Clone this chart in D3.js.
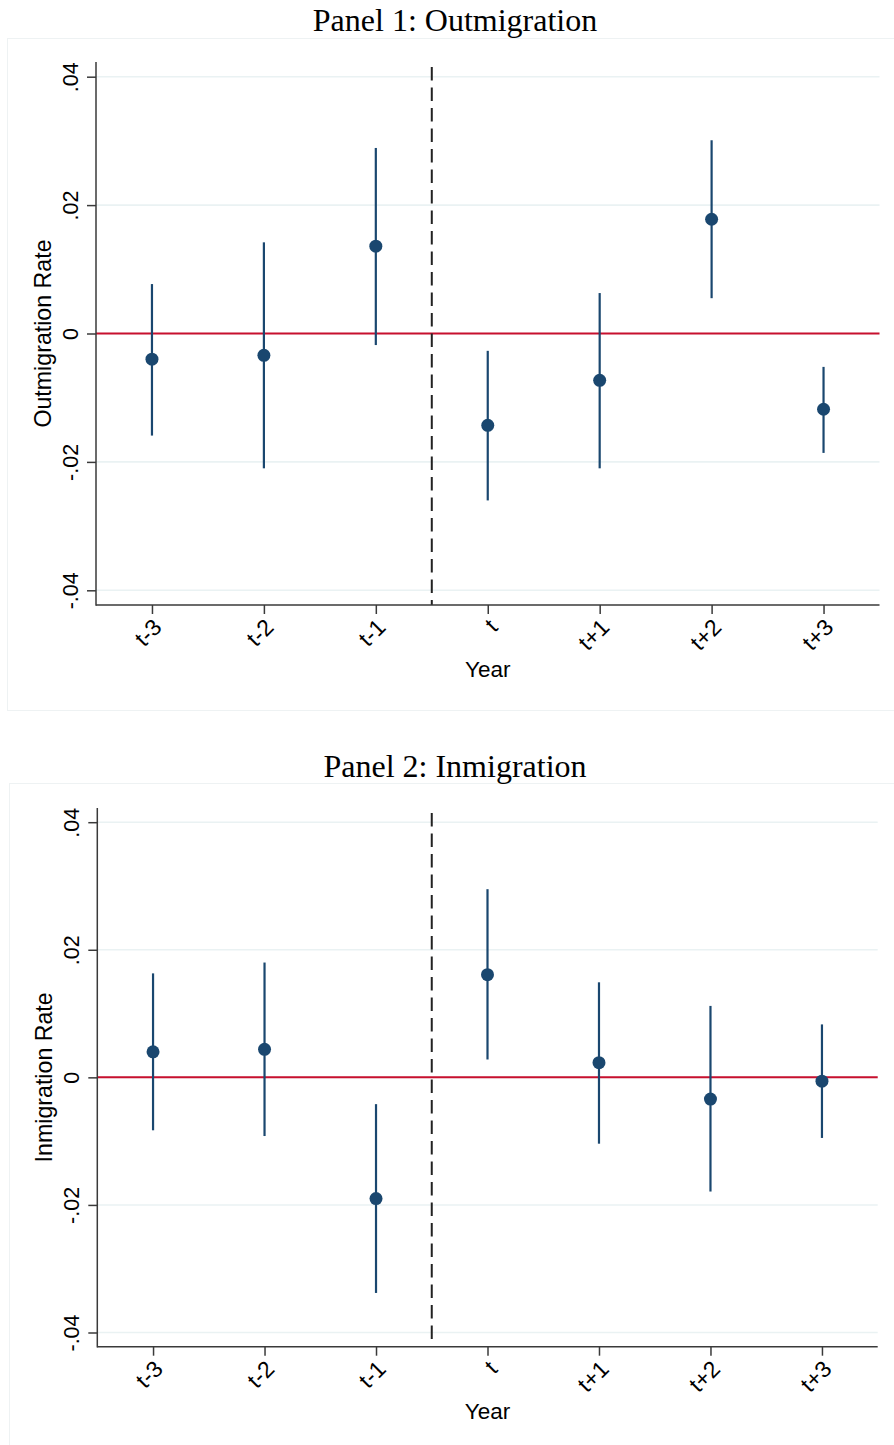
<!DOCTYPE html>
<html><head><meta charset="utf-8">
<script src="https://cdn.jsdelivr.net/npm/d3@7"></script>
<style>body{margin:0;background:#fff}svg{display:block}</style>
</head><body>
<script>
// ---- data ----
const periods = ["t-3","t-2","t-1","t","t+1","t+2","t+3"];
const outEst = [-0.0040,-0.0034, 0.0136,-0.0143,-0.0073, 0.0178,-0.0118];
const outLo  = [-0.0159,-0.0210,-0.0018,-0.0260,-0.0210, 0.0055,-0.0186];
const outHi  = [ 0.0077, 0.0142, 0.0289,-0.0027, 0.0063, 0.0301,-0.0052];
const inEst  = [ 0.0040, 0.0044,-0.0190, 0.0161, 0.0023,-0.0034,-0.0006];
const inLo   = [-0.0083,-0.0092,-0.0338, 0.0028,-0.0104,-0.0179,-0.0095];
const inHi   = [ 0.0163, 0.0180,-0.0042, 0.0295, 0.0149, 0.0112, 0.0083];
const yTicks = [-0.04,-0.02,0,0.02,0.04];
const yTickLabels = ["-.04","-.02","0",".02",".04"];
const eventBefore = "t-1", eventAfter = "t";
const titles = ["Panel 1: Outmigration","Panel 2: Inmigration"];
const yTitles = ["Outmigration Rate","Inmigration Rate"];
const xTitle = "Year";

// ---- layout ----
const W = 894, H = 1445;
const panels = [
  {left:96, right:879.5, top:62, bottom:605, pad:14.7, titleY:31, frame:[7.5,38.5,900,672], yTitleX:51, xTitleY:677},
  {left:97.3, right:877.7, top:808, bottom:1346.7, pad:14.2, titleY:777, frame:[9.5,783.5,900,700], yTitleX:52, xTitleY:1419}
];
const navy = "#1a476f", red = "#c8102e", grid = "#eaf2f3", axisCol = "#3a3a3a";
const sans = "'Liberation Sans', Arial, sans-serif";
const serif = "'Liberation Serif', 'Times New Roman', serif";

const svg = d3.select("body").append("svg").attr("width",W).attr("height",H);
svg.append("rect").attr("width",W).attr("height",H).attr("fill","#fff");

function drawPanel(cfg, idx, est, lo, hi){
  const g = svg.append("g");
  const x = d3.scalePoint().domain(periods).range([cfg.left, cfg.right]).padding(0.5);
  const y = d3.scaleLinear().domain([-0.04,0.04]).range([cfg.bottom - cfg.pad, cfg.top + cfg.pad]);

  g.append("rect").attr("x",cfg.frame[0]).attr("y",cfg.frame[1]).attr("width",cfg.frame[2]).attr("height",cfg.frame[3])
    .attr("fill","#fff").attr("stroke","#eef2f3").attr("stroke-width",1);

  g.append("text").attr("x",455).attr("y",cfg.titleY).attr("text-anchor","middle")
    .attr("font-family",serif).attr("font-size",32).attr("fill","#000").text(titles[idx]);

  // gridlines
  g.append("g").selectAll("line").data(yTicks).join("line")
    .attr("x1",cfg.left).attr("x2",cfg.right).attr("y1",d=>y(d)).attr("y2",d=>y(d))
    .attr("stroke",grid).attr("stroke-width",1.6);

  // zero line
  g.append("line").attr("x1",cfg.left).attr("x2",cfg.right).attr("y1",y(0)).attr("y2",y(0))
    .attr("stroke",red).attr("stroke-width",2);

  // event line
  const xv = (x(eventBefore)+x(eventAfter))/2;
  g.append("line").attr("x1",xv).attr("x2",xv).attr("y1",cfg.top+5).attr("y2",cfg.bottom)
    .attr("stroke","#222").attr("stroke-width",2).attr("stroke-dasharray","13.5,7");

  const data = periods.map((p,i)=>({p, e:est[i], lo:lo[i], hi:hi[i]}));
  g.append("g").selectAll("line").data(data).join("line")
    .attr("x1",d=>x(d.p)).attr("x2",d=>x(d.p)).attr("y1",d=>y(d.lo)).attr("y2",d=>y(d.hi))
    .attr("stroke",navy).attr("stroke-width",2.2);
  g.append("g").selectAll("circle").data(data).join("circle")
    .attr("cx",d=>x(d.p)).attr("cy",d=>y(d.e)).attr("r",6.5).attr("fill",navy);

  // axes
  const ya = g.append("g").attr("transform",`translate(${cfg.left},0)`)
    .call(d3.axisLeft(y).tickValues(yTicks).tickSize(9).tickFormat((d,i)=>yTickLabels[i]));
  ya.select(".domain").remove();
  ya.selectAll(".tick line").attr("stroke",axisCol).attr("stroke-width",1.5);
  ya.selectAll(".tick text").attr("x",0).attr("dy",null).attr("text-anchor","middle")
    .attr("transform","translate(-18,0) rotate(-90)")
    .attr("font-family",sans).attr("font-size",21.5).attr("fill","#000");

  const xa = g.append("g").attr("transform",`translate(0,${cfg.bottom})`)
    .call(d3.axisBottom(x).tickSize(9));
  xa.select(".domain").remove();
  xa.selectAll(".tick line").attr("stroke",axisCol).attr("stroke-width",1.5);
  xa.selectAll(".tick text").attr("x",0).attr("y",0).attr("dy","0.35em").attr("text-anchor","end")
    .attr("transform","translate(5,18) rotate(-45)")
    .attr("font-family",sans).attr("font-size",23).attr("fill","#000");

  // spines
  g.append("line").attr("x1",cfg.left).attr("x2",cfg.left).attr("y1",cfg.top).attr("y2",cfg.bottom+0.75)
    .attr("stroke",axisCol).attr("stroke-width",1.5);
  g.append("line").attr("x1",cfg.left).attr("x2",cfg.right).attr("y1",cfg.bottom).attr("y2",cfg.bottom)
    .attr("stroke",axisCol).attr("stroke-width",1.5);

  // axis titles
  g.append("text").attr("transform",`translate(${cfg.yTitleX},${(cfg.top+cfg.bottom)/2}) rotate(-90)`)
    .attr("text-anchor","middle").attr("font-family",sans).attr("font-size",23.2).attr("fill","#000").text(yTitles[idx]);
  g.append("text").attr("x",(cfg.left+cfg.right)/2).attr("y",cfg.xTitleY).attr("text-anchor","middle")
    .attr("font-family",sans).attr("font-size",22.5).attr("fill","#000").text(xTitle);
}
drawPanel(panels[0],0,outEst,outLo,outHi);
drawPanel(panels[1],1,inEst,inLo,inHi);
</script>
</body></html>
